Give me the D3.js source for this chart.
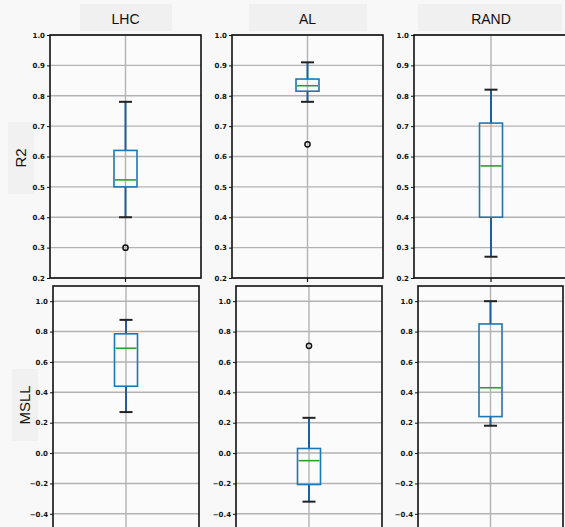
<!DOCTYPE html>
<html>
<head>
<meta charset="utf-8">
<script src="https://cdn.jsdelivr.net/npm/d3@7"></script>
<style>
  html, body { margin: 0; padding: 0; background: #f8f8f8; }
  svg { display: block; }
</style>
</head>
<body>
<svg id="chart" width="565" height="527"></svg>
<script>
// ---------------- DATA ----------------
const categories = ["LHC", "AL", "RAND"];
const metrics = ["R2", "MSLL"];

// R2 box statistics per category (LHC, AL, RAND)
const r2WhiskerLow  = [0.40, 0.78, 0.27];
const r2Q1          = [0.50, 0.815, 0.40];
const r2Median      = [0.523, 0.833, 0.569];
const r2Q3          = [0.62, 0.855, 0.71];
const r2WhiskerHigh = [0.78, 0.91, 0.82];
const r2Outliers    = [[0.30], [0.64], []];

// MSLL box statistics per category (LHC, AL, RAND)
const msllWhiskerLow  = [0.27, -0.32, 0.18];
const msllQ1          = [0.44, -0.207, 0.24];
const msllMedian      = [0.69, -0.05, 0.43];
const msllQ3          = [0.785, 0.03, 0.85];
const msllWhiskerHigh = [0.877, 0.232, 1.0];
const msllOutliers    = [[], [0.706], []];

// tick labels
const r2Ticks   = [0.2, 0.3, 0.4, 0.5, 0.6, 0.7, 0.8, 0.9, 1.0];
const msllTicks = [-0.4, -0.2, 0.0, 0.2, 0.4, 0.6, 0.8, 1.0];
const r2Domain   = [0.2, 1.0];
const msllDomain = [-0.5, 1.1];

// ---------------- LAYOUT ----------------
const svg = d3.select("#chart");
const rows = [
  { metric: "R2", top: 35, bottom: 278, domain: r2Domain, ticks: r2Ticks,
    lo: r2WhiskerLow, q1: r2Q1, med: r2Median, q3: r2Q3, hi: r2WhiskerHigh, out: r2Outliers,
    panels: [[50, 201], [232, 383], [414, 568]], fmt: d3.format(".1f") },
  { metric: "MSLL", top: 286, bottom: 529, domain: msllDomain, ticks: msllTicks,
    lo: msllWhiskerLow, q1: msllQ1, med: msllMedian, q3: msllQ3, hi: msllWhiskerHigh, out: msllOutliers,
    panels: [[53, 199], [236, 382], [418, 563]], fmt: d3.format(".1f") }
];

const gridColor = "#b3b3b3";
const boxColor = "#1f77b4";
const whiskerColor = "#1c5f9e";
const medianColor = "#2ca02c";

// column headers
const headerBoxes = [[80, 172], [249, 367], [418, 562]];
categories.forEach((c, i) => {
  const [x0, x1] = headerBoxes[i];
  svg.append("rect").attr("x", x0).attr("y", 4).attr("width", x1 - x0).attr("height", 27)
    .attr("fill", "#f0f0f0");
  const cx = (rows[0].panels[i][0] + Math.min(rows[0].panels[i][1], 568)) / 2;
  svg.append("text").attr("x", cx).attr("y", 24).attr("text-anchor", "middle")
    .attr("font-family", "Liberation Sans, Arial, sans-serif").attr("font-size", 14)
    .attr("fill", "#111").text(c);
});

// row labels
const rowLabelPos = [[21, 158], [25, 405]];
metrics.forEach((m, i) => {
  const [lx, ly] = rowLabelPos[i];
  svg.append("rect").attr("x", lx - 13).attr("y", ly - 36).attr("width", 26).attr("height", 72)
    .attr("fill", "#f1f1f1");
  svg.append("text").attr("transform", `translate(${lx + 5},${ly}) rotate(-90)`)
    .attr("text-anchor", "middle")
    .attr("font-family", "Liberation Sans, Arial, sans-serif").attr("font-size", 15)
    .attr("fill", "#111").text(m);
});

rows.forEach(row => {
  const y = d3.scaleLinear().domain(row.domain).range([row.bottom, row.top]);
  categories.forEach((cat, i) => {
    const [px0, px1] = row.panels[i];
    const w = px1 - px0;
    const x = d3.scalePoint().domain([cat]).range([0, w]).padding(0.5);
    const g = svg.append("g").attr("transform", `translate(${px0},0)`);

    g.append("rect").attr("x", 0).attr("y", row.top).attr("width", w)
      .attr("height", row.bottom - row.top).attr("fill", "#fbfbfb");

    // horizontal grid
    g.selectAll("line.hg").data(row.ticks).enter().append("line")
      .attr("x1", 0).attr("x2", w)
      .attr("y1", d => y(d)).attr("y2", d => y(d))
      .attr("stroke", gridColor).attr("stroke-width", 1.4);
    // vertical grid
    g.append("line").attr("x1", x(cat)).attr("x2", x(cat))
      .attr("y1", row.top).attr("y2", row.bottom)
      .attr("stroke", gridColor).attr("stroke-width", 1.4);

    const cx = x(cat);
    const bw = 23, cw = 13;
    // whiskers
    g.append("line").attr("x1", cx).attr("x2", cx)
      .attr("y1", y(row.q3[i])).attr("y2", y(row.hi[i]))
      .attr("stroke", whiskerColor).attr("stroke-width", 2);
    g.append("line").attr("x1", cx).attr("x2", cx)
      .attr("y1", y(row.q1[i])).attr("y2", y(row.lo[i]))
      .attr("stroke", whiskerColor).attr("stroke-width", 2);
    // caps
    [row.lo[i], row.hi[i]].forEach(v => {
      g.append("line").attr("x1", cx - cw / 2).attr("x2", cx + cw / 2)
        .attr("y1", y(v)).attr("y2", y(v))
        .attr("stroke", "#222").attr("stroke-width", 2);
    });
    // box
    g.append("rect").attr("x", cx - bw / 2).attr("y", y(row.q3[i]))
      .attr("width", bw).attr("height", y(row.q1[i]) - y(row.q3[i]))
      .attr("fill", "none").attr("stroke", boxColor).attr("stroke-width", 1.6);
    // median
    g.append("line").attr("x1", cx - bw / 2 + 1).attr("x2", cx + bw / 2 - 1)
      .attr("y1", y(row.med[i])).attr("y2", y(row.med[i]))
      .attr("stroke", medianColor).attr("stroke-width", 1.6);
    // outliers
    g.selectAll("circle.out").data(row.out[i]).enter().append("circle")
      .attr("cx", cx).attr("cy", d => y(d)).attr("r", 2.6)
      .attr("fill", "none").attr("stroke", "#111").attr("stroke-width", 1.5);

    // frame
    g.append("rect").attr("x", 0).attr("y", row.top).attr("width", w)
      .attr("height", row.bottom - row.top)
      .attr("fill", "none").attr("stroke", "#111").attr("stroke-width", 1.6);

    // y axis
    const ax = g.append("g").call(d3.axisLeft(y).tickValues(row.ticks)
      .tickFormat(d => row.fmt(d).replace("-", "\u2212")).tickSize(3).tickPadding(2));
    ax.select(".domain").remove();
    ax.selectAll("text").attr("font-family", "DejaVu Sans, sans-serif")
      .attr("font-size", 7).attr("font-weight", "bold").attr("fill", "#111");
    ax.selectAll("line").attr("stroke", "#111");

    // bottom x tick
    if (row.metric === "R2") {
      g.append("line").attr("x1", cx).attr("x2", cx)
        .attr("y1", row.bottom).attr("y2", row.bottom + 4)
        .attr("stroke", "#111").attr("stroke-width", 1.2);
    }
  });
});
</script>
</body>
</html>
